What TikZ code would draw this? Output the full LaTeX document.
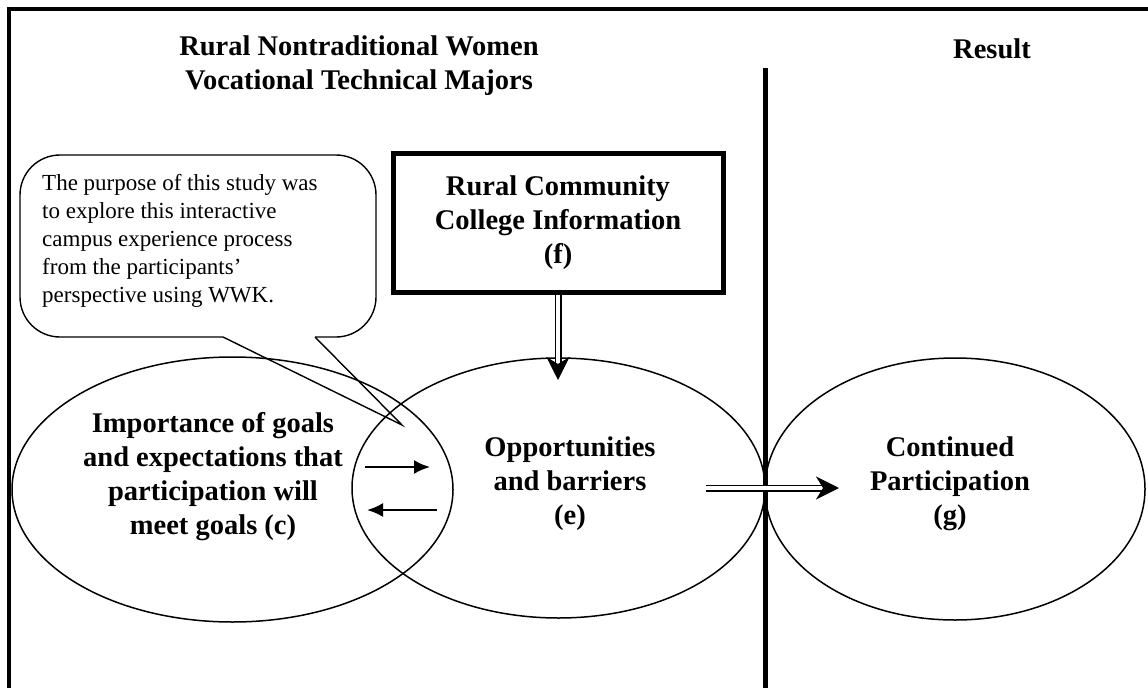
\documentclass[tikz,border=0pt]{standalone}
\usepackage{fontspec}
\setmainfont{Liberation Serif}
\usetikzlibrary{shapes.geometric,arrows.meta}

\tikzset{
  bigtext/.style={font=\bfseries\fontsize{28.5}{34}\selectfont, align=center, inner sep=0pt},
  note/.style={font=\fontsize{23}{28}\selectfont, align=left, inner sep=0pt},
  oval/.style={draw, ellipse, line width=1.5pt, inner sep=0pt},
  infobox/.style={draw, line width=5pt, inner sep=0pt},
  thin arrow/.style={-{Latex[length=16pt,width=14pt]}, line width=2.2pt},
  twin arrow/.style={double, double distance=3.2pt, line width=1.9pt, -{Stealth[length=23pt,width=23pt,inset=7pt]}},
}

\begin{document}
\begin{tikzpicture}[x=1pt,y=-1pt]
  \useasboundingbox (0,0) rectangle (1148,688);
  % frame and divider
  \draw[line width=4pt] (1148,9) -- (9,9) -- (9,688);
  \draw[line width=5pt] (765,68) -- (765,688);

  % headings
  \node[bigtext] (women) at (359,66) {Rural Nontraditional Women\\Vocational Technical Majors};
  \node[bigtext, anchor=base] (result) at (992,58) {Result};

  % ovals
  \node[oval, minimum width=441pt, minimum height=265pt] (goals) at (232.5,489.5) {};
  \node[oval, minimum width=413pt, minimum height=260pt] (opp) at (558.5,488) {};
  \node[oval, minimum width=380pt, minimum height=262pt] (cont) at (955,489) {};

  \node[bigtext] (goalstext) at (213,477) {Importance of goals\\and expectations that\\participation will\\meet goals (c)};
  \node[bigtext] (opptext) at (570,484) {Opportunities\\and barriers\\(e)};
  \node[bigtext] (conttext) at (950,484) {Continued\\Participation\\(g)};

  % information box
  \node[infobox, bigtext, minimum width=330pt, minimum height=139pt] (info) at (558,222.5) {Rural Community\\College Information\\(f)};

  % callout
  \node[note, anchor=west] (purpose) at (42,241) {The purpose of this study was\\to explore this interactive\\campus experience process\\from the participants'\\perspective using WWK.};
  \coordinate (tip) at (402,425);
  \coordinate (baseL) at (223,337);
  \coordinate (baseR) at (315,337);
  \draw[line width=1.4pt, rounded corners=40pt] (baseR) -- (376,337) -- (376,155) -- (20,155) -- (20,337) -- (baseL);
  \draw[line width=1.4pt] (baseL) -- (tip) -- (baseR);

  % arrows
  \coordinate (toA) at (365,467);
  \coordinate (toB) at (430,467);
  \coordinate (backA) at (437,510);
  \coordinate (backB) at (367,510);
  \draw[thin arrow] (toA) -- (toB);
  \draw[thin arrow] (backA) -- (backB);

  \coordinate (infoend) at (558,380);
  \draw[twin arrow] (info.south) -- (infoend);
  \coordinate (outA) at (706,488);
  \coordinate (outB) at (839,488);
  \draw[twin arrow] (outA) -- (outB);
\end{tikzpicture}
\end{document}
